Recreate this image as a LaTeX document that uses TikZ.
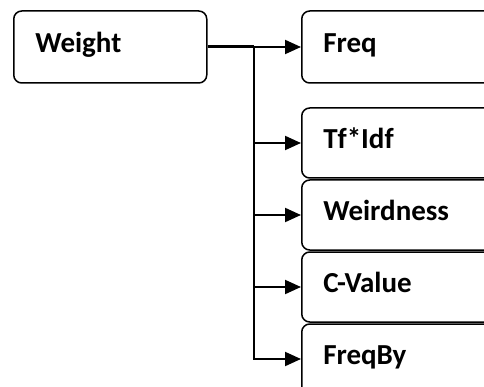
\documentclass[tikz,border=0pt]{standalone}
\usepackage{fontspec}
\setmainfont{Carlito}
\usetikzlibrary{arrows.meta}
\begin{document}
\begin{tikzpicture}[x=1pt,y=-1pt,
  box/.style={draw=black, line width=1.5pt, rounded corners=8pt, rectangle,
    align=left, inner ysep=0pt, font=\fontsize{29}{32}\selectfont\bfseries,
    text height=21pt, text depth=10pt},
  leftbox/.style={box, text width=150pt, inner xsep=21.5pt, minimum height=72pt},
  rightbox/.style={box, text width=230pt, inner xsep=21.5pt, minimum height=70pt},
  conn/.style={line width=2pt, -{Triangle[length=16pt,width=14pt]}},
]
\useasboundingbox (0,0) rectangle (484,387);
\clip (0,0) rectangle (484,387);
\node[leftbox, anchor=west] (weight) at (13,47) {Weight};
\node[rightbox, minimum height=72pt, anchor=west] (freq) at (301,47) {Freq};
\node[rightbox, anchor=west] (tfidf) at (301,143) {Tf*Idf};
\node[rightbox, anchor=west] (weird) at (301,215) {Weirdness};
\node[rightbox, anchor=west] (cval) at (301,287) {C-Value};
\node[rightbox, anchor=west] (freqby) at (301,359) {FreqBy};
\coordinate (j) at (254,47);
\draw[line width=3pt] (weight.east) -- (j);
\draw[conn] (j) -- (freq.west);
\draw[conn] (j) |- (tfidf.west);
\draw[conn] (j) |- (weird.west);
\draw[conn] (j) |- (cval.west);
\draw[conn] (j) |- (freqby.west);
\end{tikzpicture}
\end{document}
